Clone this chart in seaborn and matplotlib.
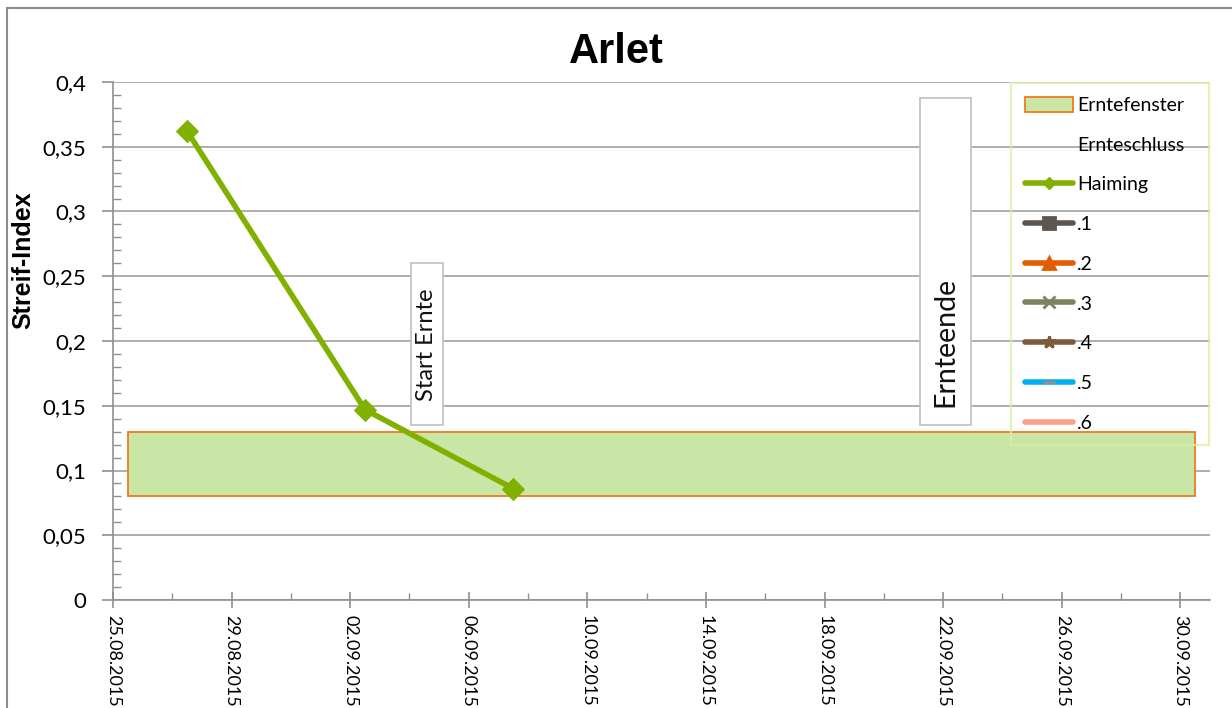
import numpy as np
import pandas as pd
import matplotlib
matplotlib.use("Agg")
import matplotlib.pyplot as plt
import matplotlib.dates as mdates
from matplotlib.patches import Rectangle, Patch
from matplotlib.lines import Line2D
from matplotlib.ticker import MultipleLocator, FuncFormatter
import seaborn as sns

# data
haiming_dates = ["2015-08-27", "2015-09-02", "2015-09-07"]
haiming_values = [0.362, 0.147, 0.086]

window_start = "2015-08-25 12:00"
window_end = "2015-09-30 12:00"
window_low = 0.08
window_high = 0.13

start_label_date = "2015-09-04 14:00"
end_label_date = "2015-09-22 02:00"

axis_start = "2015-08-25"
axis_end = "2015-10-01"

legend_names = ["Erntefenster", "Ernteschluss", "Haiming", ".1", ".2", ".3", ".4", ".5", ".6"]
empty_series_colors = ["#5e5550", "#e35d00", "#7b8360", "#7d5a3a", "#00b0f0", "#ff9f8a"]
empty_series_markers = ["s", "^", "x", "*", "_", None]

GREEN = "#80b000"
BODY = ["Lato", "DejaVu Sans"]
BOLD = ["Liberation Sans", "DejaVu Sans"]

sns.set_theme(style="white")
plt.rcParams["font.family"] = BODY
plt.rcParams["text.color"] = "black"
plt.rcParams["axes.labelcolor"] = "black"

half_day = pd.Timedelta(hours=12)
df = pd.DataFrame({
    "Datum": pd.to_datetime(haiming_dates) + half_day,
    "Streif-Index": haiming_values,
})

fig = plt.figure(figsize=(12.32, 7.08), dpi=100)
ax = fig.add_axes([113 / 1232, 1 - 600 / 708, (1210 - 113) / 1232, (600 - 82) / 708])

# harvest window band
x0 = mdates.date2num(pd.Timestamp(window_start))
x1 = mdates.date2num(pd.Timestamp(window_end))
ax.add_patch(Rectangle((x0, window_low), x1 - x0, window_high - window_low,
                       facecolor="#c9e6a6", edgecolor="#f07a20", lw=1.3, zorder=2))

sns.lineplot(data=df, x="Datum", y="Streif-Index", ax=ax, color=GREEN, lw=4,
             marker="D", markersize=11, markeredgecolor=GREEN, zorder=4)


# annotation boxes
def vbox(date, y0, y1, width_days, text, fs, ty):
    xc = mdates.date2num(pd.Timestamp(date))
    ax.add_patch(Rectangle((xc - width_days / 2, y0), width_days, y1 - y0,
                           facecolor="white", edgecolor="#c4c4c4", lw=1.3, zorder=3))
    ax.text(xc, ty, text, rotation=90, ha="center", va="center", fontsize=fs,
            color="#111111", zorder=5)


vbox(start_label_date, 0.135, 0.260, 1.08, "Start Ernte", 17, 0.197)
vbox(end_label_date, 0.135, 0.388, 1.72, "Ernteende", 20.5, 0.199)

ax.set_xlim(mdates.date2num(pd.Timestamp(axis_start)), mdates.date2num(pd.Timestamp(axis_end)))
ax.set_ylim(0, 0.4)

start_num = mdates.date2num(pd.Timestamp(axis_start))
ax.set_xticks([start_num + 4 * i for i in range(10)])
ax.set_xticks([start_num + 2 * i for i in range(19)], minor=True)
ax.xaxis.set_major_formatter(mdates.DateFormatter("%d.%m.%Y"))
plt.setp(ax.get_xticklabels(), rotation=-90, ha="center", va="top", fontsize=13)

ax.yaxis.set_major_locator(MultipleLocator(0.05))
ax.yaxis.set_minor_locator(MultipleLocator(0.01))
ax.yaxis.set_major_formatter(FuncFormatter(lambda v, p: f"{v:g}".replace(".", ",")))

ax.tick_params(axis="both", which="both", colors="#909090", labelcolor="black")
ax.tick_params(axis="y", which="major", left=True, direction="out", length=8, width=1.2,
               labelsize=16, pad=11)
ax.tick_params(axis="y", which="minor", left=True, direction="in", length=6, width=1)
ax.tick_params(axis="x", which="major", bottom=True, direction="inout", length=12, width=1.2, pad=5)
ax.tick_params(axis="x", which="minor", bottom=True, direction="in", length=5, width=1)

ax.grid(axis="y", which="major", color="#a0a0a0", lw=1.2, zorder=1)
ax.set_axisbelow(True)
for side in ["top", "right"]:
    ax.spines[side].set_visible(False)
for side in ["left", "bottom"]:
    ax.spines[side].set_color("#909090")
    ax.spines[side].set_linewidth(1.2)

ax.set_xlabel("")
ax.set_ylabel("Streif-Index", fontsize=18, fontweight="bold", family=BOLD)
ax.yaxis.set_label_coords(-0.071, 0.656)
fig.text(0.5, 1 - 52 / 708, "Arlet", ha="center", va="center", fontsize=30,
         fontweight="bold", family=BOLD, color="black")

# legend
handles = [
    Patch(facecolor="#c9e6a6", edgecolor="#f07a20", lw=1.3),
    Line2D([], [], color="none"),
    Line2D([], [], color=GREEN, lw=4, marker="D", markersize=6),
]
for c, m in zip(empty_series_colors, empty_series_markers):
    face = "#909090" if m == "_" else c
    handles.append(Line2D([], [], color=c, lw=4, marker=m, markersize=9, mew=2,
                          markeredgecolor=face, markerfacecolor=face))
leg = ax.legend(handles, legend_names, loc="upper left", mode="expand",
                bbox_to_anchor=((1011 - 113) / 1097, 0, (1209 - 1011) / 1097, 0.998),
                fontsize=14, frameon=True, fancybox=False, handlelength=2.5, handleheight=0.8,
                handletextpad=0.2, labelspacing=1.16, borderpad=0.7, borderaxespad=0)
leg.get_frame().set_edgecolor("#d8f0a0")
leg.get_frame().set_facecolor("none")
leg.get_frame().set_linewidth(1.5)
leg.set_zorder(6)

# outer chart border
fig.add_artist(Rectangle((7 / 1232, -0.1), 1.1, 1 - 8 / 708 + 0.1, transform=fig.transFigure,
                         fill=False, edgecolor="#8c8c8c", lw=1.5))

fig.savefig("out.png", dpi=100)
